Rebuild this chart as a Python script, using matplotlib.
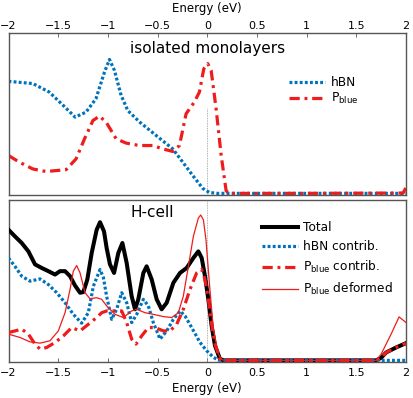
import numpy as np
import matplotlib
matplotlib.use("Agg")
import matplotlib.pyplot as plt

plt.rcParams["font.family"] = ["DejaVu Sans"]

# ===================== Data (normalised DOS) =====================

# isolated monolayers
iso_hbn_e = [-2.0, -1.755, -1.59, -1.45, -1.33, -1.22, -1.12, -1.034, -0.984, -0.934,
             -0.867, -0.80, -0.68, -0.515, -0.347, -0.246, -0.146, -0.045, 0.02, 0.1,
             1.0, 2.0]
iso_hbn = [0.702, 0.688, 0.635, 0.552, 0.479, 0.51, 0.594, 0.76, 0.838, 0.77,
           0.615, 0.52, 0.448, 0.365, 0.281, 0.198, 0.115, 0.035, 0.01, 0.004,
           0.004, 0.004]

iso_pb_e = [-2.0, -1.89, -1.755, -1.62, -1.42, -1.32, -1.235, -1.15, -1.085, -1.018,
            -0.917, -0.816, -0.682, -0.548, -0.447, -0.347, -0.28, -0.213, -0.13,
            -0.079, -0.035, 0.005, 0.039, 0.089, 0.14, 0.19, 0.22, 1.0, 1.97, 2.0]
iso_pb = [0.24, 0.198, 0.156, 0.14, 0.152, 0.219, 0.344, 0.458, 0.485, 0.448,
          0.344, 0.317, 0.302, 0.302, 0.281, 0.265, 0.302, 0.5, 0.573,
          0.635, 0.78, 0.8125, 0.77, 0.531, 0.24, 0.02, 0.004, 0.004, 0.006, 0.04]

# H-cell
tot_e = [-2.0, -1.935, -1.867, -1.80, -1.733, -1.666, -1.599, -1.532, -1.482, -1.431,
         -1.381, -1.331, -1.28, -1.247, -1.207, -1.163, -1.113, -1.079, -1.039, -1.012,
         -0.979, -0.938, -0.895, -0.854, -0.811, -0.761, -0.727, -0.694, -0.643, -0.610,
         -0.559, -0.509, -0.459, -0.408, -0.341, -0.274, -0.207, -0.140, -0.090, -0.056,
         -0.023, 0.011, 0.044, 0.078, 0.128, 0.17, 1.0, 1.7, 1.75, 1.8, 1.9, 2.0]
tot = [0.815, 0.774, 0.733, 0.681, 0.60, 0.578, 0.558, 0.537, 0.558, 0.558,
       0.527, 0.469, 0.424, 0.428, 0.506, 0.671, 0.815, 0.862, 0.805, 0.70,
       0.60, 0.547, 0.671, 0.733, 0.609, 0.403, 0.321, 0.383, 0.547, 0.588,
       0.506, 0.383, 0.321, 0.362, 0.486, 0.547, 0.578, 0.64, 0.681, 0.64,
       0.527, 0.383, 0.218, 0.095, 0.012, 0.004, 0.004, 0.004, 0.02, 0.053, 0.084, 0.111]

hbn_e = [-2.0, -1.935, -1.867, -1.784, -1.683, -1.599, -1.515, -1.431, -1.348, -1.264,
         -1.197, -1.146, -1.079, -1.046, -1.012, -0.962, -0.912, -0.861, -0.811, -0.761,
         -0.710, -0.643, -0.593, -0.543, -0.475, -0.408, -0.341, -0.274, -0.224, -0.157,
         -0.073, -0.006, 0.061, 0.111, 0.2, 1.0, 2.0]
hbn = [0.64, 0.588, 0.527, 0.496, 0.51, 0.475, 0.424, 0.362, 0.29, 0.235,
       0.30, 0.465, 0.568, 0.52, 0.40, 0.259, 0.321, 0.424, 0.362, 0.239,
       0.29, 0.383, 0.342, 0.239, 0.136, 0.187, 0.259, 0.311, 0.28, 0.208,
       0.115, 0.064, 0.023, 0.006, 0.004, 0.004, 0.004]

pb_e = [-2.0, -1.935, -1.867, -1.80, -1.733, -1.683, -1.616, -1.532, -1.448, -1.364,
        -1.28, -1.197, -1.113, -1.062, -1.012, -0.928, -0.861, -0.811, -0.761, -0.717,
        -0.660, -0.593, -0.526, -0.442, -0.375, -0.308, -0.241, -0.174, -0.107, -0.056,
        -0.023, 0.011, 0.044, 0.078, 0.128, 0.17, 1.0, 1.7, 1.75, 1.8, 1.9, 2.0]
pb = [0.177, 0.187, 0.198, 0.167, 0.105, 0.074, 0.084, 0.115, 0.156, 0.208,
      0.187, 0.228, 0.27, 0.30, 0.311, 0.311, 0.311, 0.239, 0.136, 0.105,
      0.156, 0.208, 0.208, 0.187, 0.187, 0.228, 0.321, 0.444, 0.547, 0.568,
      0.506, 0.383, 0.228, 0.105, 0.012, 0.004, 0.004, 0.004, 0.02, 0.053, 0.084, 0.111]

pbd_e = [-2.0, -1.884, -1.784, -1.683, -1.582, -1.499, -1.431, -1.381, -1.348, -1.314,
         -1.28, -1.23, -1.18, -1.113, -1.062, -1.012, -0.928, -0.844, -0.761, -0.710,
         -0.626, -0.543, -0.442, -0.358, -0.291, -0.241, -0.190, -0.140, -0.090, -0.066,
         -0.039, -0.013, 0.021, 0.061, 0.111, 0.145, 0.2, 1.0, 1.7, 1.75, 1.85, 1.93, 2.0]
pbd = [0.167, 0.146, 0.119, 0.111, 0.126, 0.187, 0.30, 0.444, 0.558, 0.593,
       0.547, 0.424, 0.387, 0.393, 0.383, 0.342, 0.29, 0.27, 0.311, 0.321,
       0.30, 0.29, 0.276, 0.27, 0.30, 0.403, 0.588, 0.774, 0.887, 0.907,
       0.877, 0.753, 0.486, 0.198, 0.043, 0.008, 0.004, 0.004, 0.004, 0.043, 0.167, 0.274, 0.239]

xticks = [-2, -1.5, -1, -0.5, 0, 0.5, 1, 1.5, 2]
xticklabels = ["\u22122", "\u22121.5", "\u22121", "\u22120.5", "0", "0.5", "1", "1.5", "2"]

# ===================== Styles =====================

blue = "#0072bd"
red = "#ee1c1c"
dotted = (0, (0.9, 0.7))
dashdot = (0, (3.2, 1.5, 0.9, 1.5))
spine_col = "#555555"

fig = plt.figure(figsize=(4.13, 3.98), dpi=100)
ax1 = fig.add_axes([0.0206, 0.5101, 0.9625, 0.4058])
ax2 = fig.add_axes([0.0206, 0.0905, 0.9625, 0.407])

for ax in (ax1, ax2):
    ax.set_xlim(-2, 2)
    ax.set_ylim(-0.006, 1)
    ax.set_yticks([])
    ax.set_xticks(xticks)
    ax.set_xticklabels(xticklabels)
    ax.tick_params(axis="x", direction="in", length=3, width=0.6,
                   labelsize=8, pad=1.7, color=spine_col)
    for s in ax.spines.values():
        s.set_color(spine_col)
        s.set_linewidth(1.0)
ax2.tick_params(axis="x", pad=4.5)

# ===== UPPER: isolated monolayers =====
ax1.axvline(0, ymax=0.54, color="#999999", lw=0.6, linestyle=(0, (1, 1)))
ax1.plot(iso_hbn_e, iso_hbn, color=blue, lw=2.3, linestyle=dotted, label="hBN")
ax1.plot(iso_pb_e, iso_pb, color=red, lw=2.3, linestyle=dashdot,
         label=r"P$_{\rm blue}$")
ax1.xaxis.tick_top()
ax1.xaxis.set_label_position("top")
ax1.set_xlabel("Energy (eV)", fontsize=8.5, labelpad=6.5)
ax1.text(0.5, 0.905, "isolated monolayers", transform=ax1.transAxes,
         ha="center", va="center", fontsize=11)
ax1.legend(loc="upper left", bbox_to_anchor=(0.705, 0.735), frameon=False,
           fontsize=8.7, handlelength=3.0, handletextpad=0.5,
           labelspacing=0.15, borderpad=0, borderaxespad=0)

# ===== LOWER: H-cell =====
ax2.axvline(0, color="#999999", lw=0.6, linestyle=(0, (1, 1)))
ax2.plot(tot_e, tot, color="black", lw=2.9, label="Total", zorder=3)
ax2.plot(hbn_e, hbn, color=blue, lw=2.3, linestyle=dotted, label="hBN contrib.",
         zorder=4)
ax2.plot(pb_e, pb, color=red, lw=2.3, linestyle=dashdot,
         label=r"P$_{\rm blue}$ contrib.", zorder=4)
ax2.plot(pbd_e, pbd, color=red, lw=0.9, label=r"P$_{\rm blue}$ deformed", zorder=5)
ax2.set_xlabel("Energy (eV)", fontsize=8.5, labelpad=3)
ax2.text(0.361, 0.92, "H-cell", transform=ax2.transAxes,
         ha="center", va="center", fontsize=11)
ax2.legend(loc="upper left", bbox_to_anchor=(0.638, 0.868), frameon=False,
           fontsize=8.7, handlelength=3.0, handletextpad=0.35,
           labelspacing=0.48, borderpad=0, borderaxespad=0)

fig.savefig("out.png", dpi=100)
plt.close(fig)
